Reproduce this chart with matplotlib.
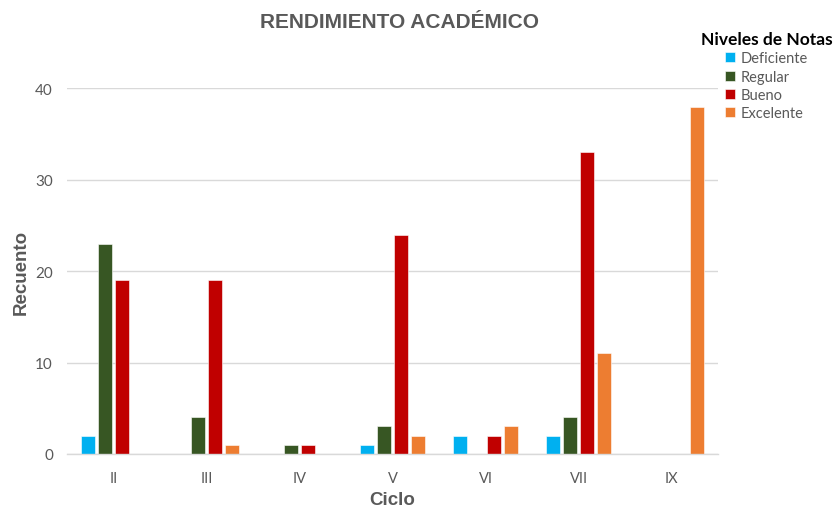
import matplotlib.pyplot as plt
import numpy as np

# Datos del gráfico
ciclos = ["II", "III", "IV", "V", "VI", "VII", "IX"]
niveles = ["Deficiente", "Regular", "Bueno", "Excelente"]
deficiente = [2, 0, 0, 1, 2, 2, 0]
regular = [23, 4, 1, 3, 0, 4, 0]
bueno = [19, 19, 1, 24, 2, 33, 0]
excelente = [0, 1, 0, 2, 3, 11, 38]
colores = ["#00B0F0", "#375623", "#C00000", "#ED7D31"]

series = [deficiente, regular, bueno, excelente]
gris = "#595959"

fig = plt.figure(figsize=(8.36, 5.10), dpi=100)
ax = fig.add_axes([0.080, 0.108, 0.779, 0.717])

x = np.arange(len(ciclos))
ancho = 0.145
paso = 0.183
for i, (nombre, vals, col) in enumerate(zip(niveles, series, colores)):
    offs = (i - 1.5) * paso
    ax.bar(x + offs, vals, width=ancho, color=col, label=nombre,
           edgecolor="white", linewidth=0.4, zorder=3)

ax.set_xlim(-0.5, len(ciclos) - 0.5)
ax.set_ylim(0, 40)
ax.set_yticks([0, 10, 20, 30, 40])
ax.set_xticks(x)
ax.set_xticklabels(ciclos, fontfamily="Lato", fontsize=10.5, color=gris)
for t in ax.get_yticklabels():
    t.set_fontfamily("Lato")
    t.set_fontsize(11)
    t.set_color(gris)
ax.tick_params(length=0, pad=12, axis="x")
ax.tick_params(length=0, pad=10, axis="y")

ax.grid(axis="y", color="#D9D9D9", linewidth=1, zorder=0)
for s in ["top", "right", "left"]:
    ax.spines[s].set_visible(False)
ax.spines["bottom"].set_color("#D9D9D9")
ax.spines["bottom"].set_linewidth(1)
ax.spines["bottom"].set_zorder(4)

# Títulos de ejes
fig.text(392 / 836, 1 - 501 / 510, "Ciclo", ha="center", va="center",
         fontfamily="Liberation Sans", fontsize=13.5, fontweight="bold", color=gris)
fig.text(21 / 836, 1 - 272 / 510, "Recuento", ha="center", va="center",
         rotation=90, fontfamily="Liberation Sans", fontsize=13.5,
         fontweight="bold", color=gris)

fig.text(399 / 836, 1 - 23 / 510, "RENDIMIENTO ACADÉMICO", ha="center", va="center",
         fontfamily="Liberation Sans", fontsize=15, fontweight="bold", color=gris)

leg = fig.legend(loc="upper right", bbox_to_anchor=(0.999, 0.943),
                 title="Niveles de Notas", frameon=False,
                 prop={"family": "Lato", "size": 10.5},
                 handlelength=0.7, handleheight=0.7, handletextpad=0.4,
                 labelspacing=0.3, borderpad=0.2, borderaxespad=0)
leg.get_title().set_fontfamily("Lato")
leg.get_title().set_fontweight("bold")
leg.get_title().set_fontsize(12.5)
for t in leg.get_texts():
    t.set_color(gris)

plt.savefig("out.png", dpi=100)
